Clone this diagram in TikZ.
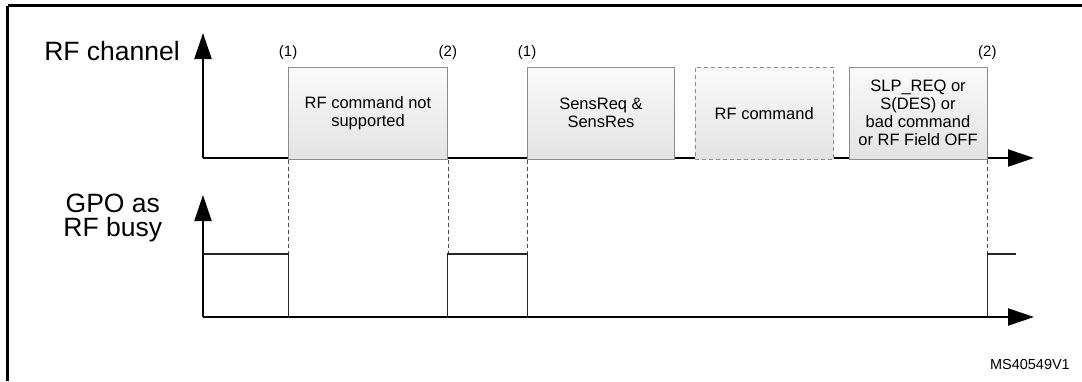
\documentclass[tikz,border=0pt]{standalone}
\usepackage{fontspec}
\setmainfont{Liberation Sans}
\usetikzlibrary{arrows.meta}
\begin{document}
\begin{tikzpicture}[x=1pt,y=-1pt,
  axis/.style={line width=2.2pt, -{Triangle[length=26pt,width=17pt]}},
  box/.style={draw=black!45, line width=0.8pt, top color=black!2, bottom color=black!11,
    align=center, inner sep=0pt, font=\fontsize{16.5}{18}\selectfont},
  dbox/.style={box, dash pattern=on 4pt off 3pt},
  guide/.style={draw=black!70, line width=0.8pt, dash pattern=on 4pt off 3pt},
  sig/.style={draw=black!85, line width=1.1pt},
  marklabel/.style={font=\fontsize{15}{17}\selectfont, inner sep=0pt},
  biglabel/.style={font=\fontsize{26.5}{24}\selectfont, align=center, inner sep=0pt}
]
\useasboundingbox (0,0) rectangle (1082,381);
% frame
\draw[line width=2.2pt] (7.5,5.5) -- (1082,5.5);
\draw[line width=2.2pt] (7.5,5.5) -- (7.5,381);
% axis coordinates
\coordinate (o1) at (203,158);
\coordinate (y1) at (203,33);
\coordinate (x1) at (1034,158);
\coordinate (o2) at (203,317);
\coordinate (y2) at (203,195);
\coordinate (x2) at (1034,317);
\draw[axis] (o1) -- (y1);
\draw[axis] (o1) -- (x1);
\draw[axis] (o2) -- (y2);
\draw[axis] (o2) -- (x2);
% axis labels
\node[biglabel, anchor=base east] (rfl) at (180,60) {RF channel};
\node[biglabel] (gpol) at (112.8,218) {GPO as\\RF busy};
% boxes
\node[box, minimum width=159pt, minimum height=92.6pt] (b1) at (368,113.3) {RF command not\\supported};
\node[box, minimum width=147pt, minimum height=92.6pt] (b2) at (601,113.3) {SensReq \&\\SensRes};
\node[dbox, minimum width=138.5pt, minimum height=92.6pt] (b3) at (764.25,113.3) {RF command};
\node[box, minimum width=138pt, minimum height=92.6pt] (b4) at (918,113.3) {SLP\_REQ or\\S(DES) or\\bad command\\or RF Field OFF};
% marks
\node[marklabel] (m1) at ([yshift=14pt]b1.north west) {(1)};
\node[marklabel] (m2) at ([yshift=14pt]b1.north east) {(2)};
\node[marklabel] (m3) at ([yshift=14pt]b2.north west) {(1)};
\node[marklabel] (m4) at ([yshift=14pt]b4.north east) {(2)};
% GPO levels
\coordinate (h0) at (203,254);
\coordinate (g1) at (b1.south west |- h0);
\coordinate (g2) at (b1.south east |- h0);
\coordinate (g3) at (b2.south west |- h0);
\coordinate (g4) at (b4.south east |- h0);
\coordinate (gend) at (1016,254);
% guides
\draw[guide] (b1.south west) -- (g1);
\draw[guide] (b1.south east) -- (g2);
\draw[guide] (b2.south west) -- (g3);
\draw[guide] (b4.south east) -- (g4);
% signal
\draw[sig] (h0) -- (g1) -- (g1 |- o2);
\draw[sig] (g2 |- o2) -- (g2) -- (g3) -- (g3 |- o2);
\draw[sig] (g4 |- o2) -- (g4) -- (gend);
% reference
\node[font=\fontsize{14.5}{16}\selectfont, anchor=base east, inner sep=0pt] (ref) at (1070,369) {MS40549V1};
\end{tikzpicture}
\end{document}
